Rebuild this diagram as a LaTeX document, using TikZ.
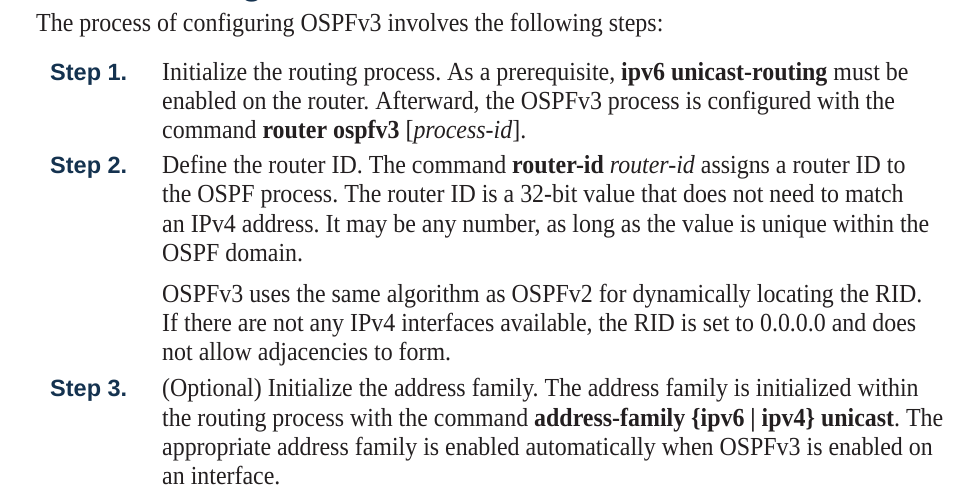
\documentclass[tikz,border=0pt]{standalone}
\usepackage{fontspec}
\setmainfont[FakeStretch=0.92]{Liberation Serif}
\setsansfont{Liberation Sans}
\definecolor{stepblue}{HTML}{14324F}
\definecolor{bodyink}{HTML}{231F20}
\frenchspacing

\begin{document}
\begin{tikzpicture}[x=1pt,y=-1pt,
		txt/.style={anchor=base west,inner sep=0pt,text=bodyink,font=\fontsize{26}{29}\selectfont},
		steplabel/.style={anchor=base west,inner sep=0pt,text=stepblue,font=\sffamily\bfseries\fontsize{23.5}{27}\selectfont}]
		\useasboundingbox (0,0) rectangle (955,499);
		% cut-off heading above the page edge
		\node[anchor=base,inner sep=0pt,text=stepblue,font=\sffamily\bfseries\fontsize{36}{40}\selectfont] (head) at (252,-5.5) {g};
		\node[txt] (intro) at (36,31) {The process of configuring OSPFv3 involves the following steps:};
		% step 1
		\node[steplabel] (st1) at (50,80) {Step 1.};
		\node[txt] (l1a) at (162,80) {Initialize the routing process. As a prerequisite, \textbf{ipv6 unicast-routing} must be};
		\node[txt] (l1b) at (162,109) {enabled on the router. Afterward, the OSPFv3 process is configured with the};
		\node[txt] (l1c) at (162,138) {command \textbf{router ospfv3} [\textit{process-id}].};
		% step 2
		\node[steplabel] (st2) at (50,173.5) {Step 2.};
		\node[txt] (l2a) at (162,173.5) {Define the router ID. The command \textbf{router-id} \textit{router-id} assigns a router ID to};
		\node[txt] (l2b) at (162,202.5) {the OSPF process. The router ID is a 32-bit value that does not need to match};
		\node[txt] (l2c) at (162,232) {an IPv4 address. It may be any number, as long as the value is unique within the};
		\node[txt] (l2d) at (162,261) {OSPF domain.};
		\node[txt] (l2e) at (162,302.5) {OSPFv3 uses the same algorithm as OSPFv2 for dynamically locating the RID.};
		\node[txt] (l2f) at (162,331.5) {If there are not any IPv4 interfaces available, the RID is set to 0.0.0.0 and does};
		\node[txt] (l2g) at (162,360.5) {not allow adjacencies to form.};
		% step 3
		\node[steplabel] (st3) at (50,396.5) {Step 3.};
		\node[txt] (l3a) at (162,396.5) {(Optional) Initialize the address family. The address family is initialized within};
		\node[txt] (l3b) at (162,426) {the routing process with the command \textbf{address-family \{ipv6 | ipv4\} unicast}. The};
		\node[txt] (l3c) at (162,455) {appropriate address family is enabled automatically when OSPFv3 is enabled on};
		\node[txt] (l3d) at (162,484.5) {an interface.};
	\end{tikzpicture}
\end{document}
